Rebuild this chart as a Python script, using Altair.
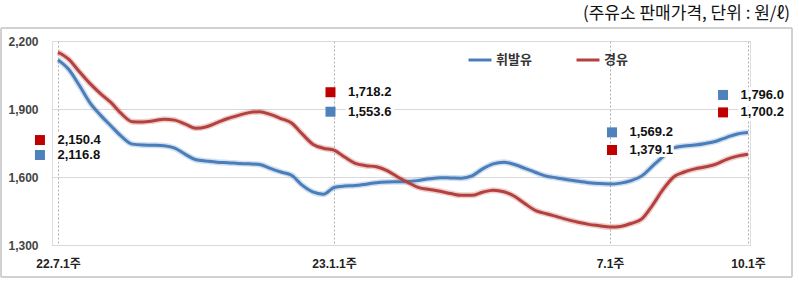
import altair as alt
import pandas as pd

# ---- data ----
weeks = list(range(66))  # weekly index, 22.7.1주 = 0 ... 23.10.1주 = 65
gasoline = [2116.8, 2075, 2005, 1928, 1873, 1825, 1778, 1745, 1741, 1740,
            1738, 1727, 1700, 1676, 1670, 1665, 1663, 1660, 1658, 1655,
            1638, 1622, 1608, 1564, 1534, 1524, 1553.6, 1560, 1562, 1568,
            1575, 1578, 1579, 1580, 1585, 1592, 1597, 1596, 1595, 1605,
            1636, 1658, 1665, 1655, 1638, 1620, 1604, 1596, 1588, 1581,
            1575, 1571, 1569.2, 1573, 1584, 1605, 1648, 1690, 1728, 1737,
            1741, 1748, 1758, 1775, 1790, 1796.0]
diesel = [2150.4, 2120, 2065, 2013, 1968, 1928, 1878, 1844, 1843, 1848,
          1855, 1851, 1833, 1815, 1822, 1840, 1858, 1872, 1884, 1888,
          1876, 1858, 1838, 1790, 1745, 1727, 1718.2, 1688, 1660, 1650,
          1645, 1628, 1600, 1575, 1553, 1545, 1537, 1527, 1519, 1519,
          1533, 1542, 1535, 1515, 1482, 1452, 1438, 1425, 1412, 1400,
          1391, 1385, 1379.1, 1382, 1395, 1415, 1475, 1545, 1600, 1622,
          1636, 1645, 1657, 1678, 1692, 1700.2]

series_names = ["휘발유", "경유"]
tick_weeks = [0, 26, 52, 65]
tick_labels = ["22.7.1주", "23.1.1주", "7.1주", "10.1주"]
y_ticks = [1300, 1600, 1900, 2200]

# callouts: which series / value, and where the callout sits (week units, value units)
ann_series = ["경유", "휘발유", "경유", "휘발유", "휘발유", "경유", "휘발유", "경유"]
ann_values = [2150.4, 2116.8, 1718.2, 1553.6, 1569.2, 1379.1, 1796.0, 1700.2]
ann_x = [-1.7, -1.7, 25.67, 25.67, 52.19, 52.19, 62.65, 62.65]
ann_y = [1763, 1697, 1974, 1888, 1797, 1719, 1962, 1885]

title_text = "(주유소 판매가격, 단위 : 원/ℓ)"

# ---- styles ----
line_colors = ["#4a7ebb", "#b5413f"]
square_colors = ["#4f81bd", "#c00000"]
FONT = "Liberation Sans, 'Noto Sans CJK KR'"
KFONT = "'Noto Sans CJK KR'"

df = pd.DataFrame({
    "week": weeks * 2,
    "series": [series_names[0]] * len(weeks) + [series_names[1]] * len(weeks),
    "value": gasoline + diesel,
})
ann = pd.DataFrame({
    "series": ann_series,
    "x": ann_x,
    "y": ann_y,
    "label": [f"{v:,.1f}" for v in ann_values],
})
title_df = pd.DataFrame({"t": [title_text]})

label_expr = " : ".join(
    f"datum.value == {w} ? '{t}'" for w, t in zip(tick_weeks, tick_labels)
) + " : ''"

x_scale = alt.Scale(domain=[-0.565, 65.19], nice=False, zero=False)
y_scale = alt.Scale(domain=[1300, 2200], nice=False, zero=False)

x_enc = alt.X("week:Q", scale=x_scale, axis=alt.Axis(
    values=tick_weeks, labelExpr=label_expr, grid=True, gridDash=[2, 2],
    gridColor="#b0b0b0", domain=False, ticks=False, labelPadding=13,
    labelFontSize=12, labelFontWeight="bold", labelColor="#222",
    labelFont=FONT, title=None, labelOverlap=False, labelFlush=False))
y_enc = alt.Y("value:Q", scale=y_scale, axis=alt.Axis(
    values=y_ticks, format=",.0f", grid=True, gridColor="#d9d9d9",
    domain=False, ticks=False, labelPadding=14, labelFontSize=12,
    labelFontWeight="bold", labelColor="#444", labelFont=FONT, title=None))

color_scale = alt.Scale(domain=series_names, range=line_colors)
legend = alt.Legend(
    title=None, orient="none", legendX=415, legendY=6, direction="horizontal",
    symbolType="stroke", symbolSize=529, symbolStrokeWidth=3,
    labelFontSize=13, labelFontWeight="bold", labelColor="#333",
    labelFont=KFONT, columnPadding=38, labelOffset=3, padding=0)

frame = alt.Chart(df).mark_rect(fillOpacity=0, stroke="#d0d0d0", strokeWidth=1).encode(
    x=alt.value(-51), x2=alt.value(740), y=alt.value(-13), y2=alt.value(236))

title = alt.Chart(title_df).mark_text(
    align="right", baseline="middle", fontSize=17, font=KFONT, color="#111").encode(
    x=alt.value(738), y=alt.value(-27), text="t:N")

glow = alt.Chart(df).mark_line(interpolate="monotone", strokeWidth=6, opacity=0.25).encode(
    x=x_enc, y=y_enc,
    stroke=alt.Stroke("series:N", scale=alt.Scale(domain=series_names, range=line_colors), legend=None))

lines = alt.Chart(df).mark_line(interpolate="monotone", strokeWidth=3).encode(
    x=x_enc, y=y_enc,
    color=alt.Color("series:N", scale=color_scale, legend=legend))

ax = alt.X("x:Q", scale=x_scale)
ay = alt.Y("y:Q", scale=y_scale)

halo = alt.Chart(ann).mark_text(
    align="left", baseline="middle", dx=17.5, fontSize=13, fontWeight="bold",
    font=FONT, stroke="white", strokeWidth=6, fill="white").encode(
    x=ax, y=ay, text="label:N")

squares = alt.Chart(ann).mark_square(size=100, opacity=1, filled=True).encode(
    x=ax, y=ay,
    fill=alt.Fill("series:N", scale=alt.Scale(domain=series_names, range=square_colors), legend=None))

texts = alt.Chart(ann).mark_text(
    align="left", baseline="middle", dx=17.5, fontSize=13, fontWeight="bold",
    font=FONT, color="#111").encode(x=ax, y=ay, text="label:N")

chart = alt.layer(frame, title, glow, lines, halo, squares, texts).resolve_scale(
    fill="independent", stroke="independent"
).properties(
    width=698, height=204,
    autosize=alt.AutoSizeParams(type="none"),
    padding={"left": 52, "top": 41, "right": 49, "bottom": 37},
).configure_view(stroke=None).configure(background="white")

chart.save("out.html", embed_options={"renderer": "svg", "actions": False})
